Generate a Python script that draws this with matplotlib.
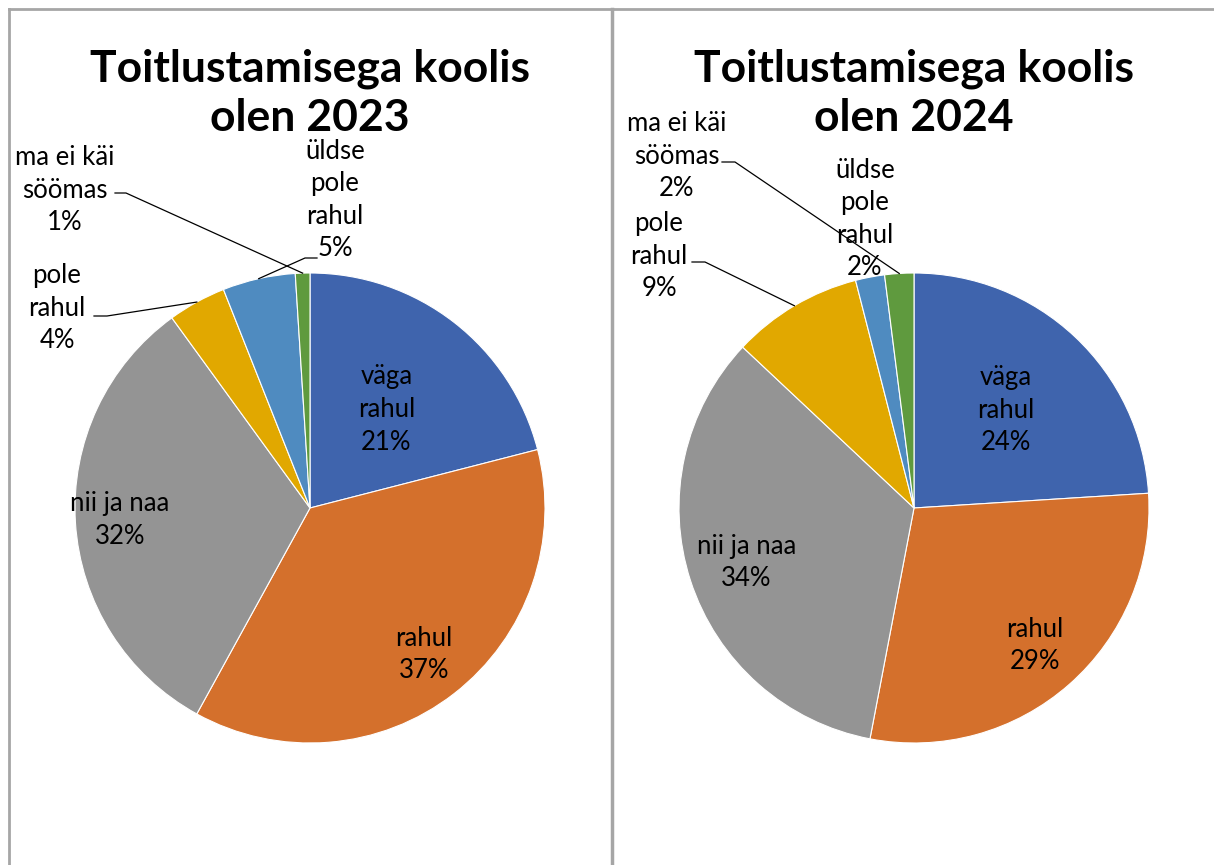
import matplotlib
matplotlib.use("Agg")
import matplotlib.pyplot as plt
import numpy as np

# ---- data ----
categories = ["väga rahul", "rahul", "nii ja naa", "pole rahul", "üldse pole rahul", "ma ei käi söömas"]
label_lines = ["väga\nrahul", "rahul", "nii ja naa", "pole\nrahul", "üldse\npole\nrahul", "ma ei käi\nsöömas"]
values_2023 = [21, 37, 32, 4, 5, 1]
values_2024 = [24, 29, 34, 9, 2, 2]
years = ["2023", "2024"]
title_line1 = "Toitlustamisega koolis"
title_line2 = "olen {}"
colors = ["#3F64AD", "#D4702C", "#949494", "#E1A800", "#4F8BC0", "#5F9A3E"]

W, H = 1214, 865
FONT = "Lato"
LFS = 18.5
LLS = 1.38

fig = plt.figure(figsize=(W / 100, H / 100), dpi=100)
ax = fig.add_axes([0, 0, 1, 1])

def fy(y):
    return H - y

layouts = [
    dict(cx=310, cy=508, r=235, tx=310, ty1=69, ty2=118,
         inner={0: 0.53, 1: 0.79, 2: 0.81},
         outer={3: dict(pos=(57, 308), line=[(94, 316), (107, 316)]),
                5: dict(pos=(65, 190), line=[(115, 193), (126, 193)]),
                4: dict(pos=(335, 200), line=[(317, 258), (305, 258)])}),
    dict(cx=914, cy=508, r=235, tx=914, ty1=69, ty2=118,
         inner={0: 0.57, 1: 0.78, 2: 0.75},
         outer={3: dict(pos=(659, 256), line=[(692, 262), (705, 262)]),
                5: dict(pos=(677, 156), line=[(722, 162), (735, 162)]),
                4: dict(pos=(865, 219), line=None)}),
]

for vals, year, lay in zip([values_2023, values_2024], years, layouts):
    cx, cy, R = lay["cx"], lay["cy"], lay["r"]
    wedges, _ = ax.pie(vals, colors=colors, startangle=90, counterclock=False,
                       center=(cx, fy(cy)), radius=R,
                       wedgeprops=dict(edgecolor="white", linewidth=0.8))
    total = sum(vals)
    for i, (w, v) in enumerate(zip(wedges, vals)):
        ang = np.deg2rad((w.theta1 + w.theta2) / 2)
        txt = f"{label_lines[i]}\n{round(100 * v / total)}%"
        if i in lay["inner"]:
            f = lay["inner"][i]
            ax.text(cx + f * R * np.cos(ang), fy(cy) + f * R * np.sin(ang), txt,
                    ha="center", va="center", fontsize=LFS, family=FONT,
                    linespacing=LLS, color="black")
        else:
            o = lay["outer"][i]
            ax.text(o["pos"][0], fy(o["pos"][1]), txt, ha="center", va="center",
                    fontsize=LFS, family=FONT, linespacing=LLS, color="black")
            if o["line"] is not None:
                px = cx + R * np.cos(ang)
                py = fy(cy) + R * np.sin(ang)
                xs = [p[0] for p in o["line"]] + [px]
                ys = [fy(p[1]) for p in o["line"]] + [py]
                ax.plot(xs, ys, color="black", linewidth=0.9, zorder=5)
    ax.text(lay["tx"], fy(lay["ty1"]), title_line1, ha="center", va="center",
            fontsize=32, fontweight="bold", family=FONT, color="black")
    ax.text(lay["tx"], fy(lay["ty2"]), title_line2.format(year), ha="center",
            va="center", fontsize=32, fontweight="bold", family=FONT, color="black")

# panel borders
bc = "#A6A6A6"
ax.plot([9, 9], [fy(9), 0], color=bc, linewidth=2)
ax.plot([9, W], [fy(9), fy(9)], color=bc, linewidth=2)
ax.plot([612, 612], [fy(9), 0], color=bc, linewidth=2.5)

ax.set_xlim(0, W)
ax.set_ylim(0, H)
ax.set_aspect("auto")
ax.axis("off")

fig.savefig("out.png", dpi=100)
